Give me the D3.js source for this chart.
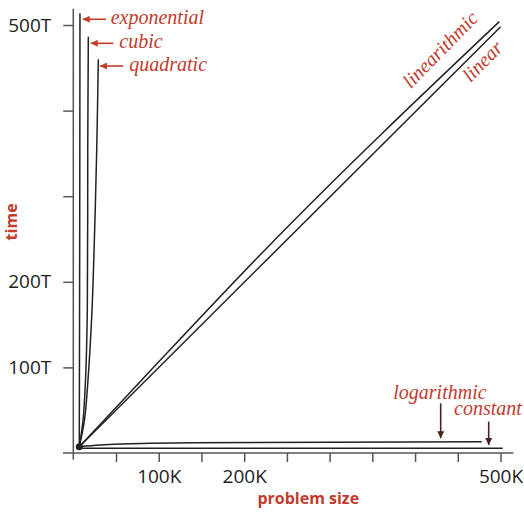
<!DOCTYPE html>
<html>
<head>
<meta charset="utf-8">
<title>Order of growth</title>
<script src="https://d3js.org/d3.v7.min.js"></script>
<style>
  body { margin: 0; background: #fff; }
  .axis .tick text { font-family: "Open Sans", sans-serif; font-size: 19px; fill: #222; }
  .axis .tick line { stroke: #555; stroke-width: 1.5; }
  .axisline { stroke: #555; stroke-width: 1.5; }
  .curve { fill: none; stroke: #222; stroke-width: 1.5; }
  .title { font-family: "Open Sans", sans-serif; font-weight: bold; font-size: 16px; fill: #c23b2e; }
  .lbl { font-family: "Liberation Serif", serif; font-style: italic; font-size: 20px; fill: #c23b2e; }
</style>
</head>
<body>
<svg id="growth" width="524" height="512"></svg>
<script>
// problem size N in thousands, time T in trillions
var xTicks = [50, 100, 150, 200, 250, 300, 350, 400, 450, 500];
var xTickLabels = { 100: "100K", 200: "200K", 500: "500K" };
var yTicks = [100, 200, 300, 400, 500];
var yTickLabels = { 100: "100T", 200: "200T", 500: "500T" };

var start = [7, 7.4];

var constantN = [7, 502.6];
var constantT = [5.5, 5.5];
var logN = [7, 31.3, 66.4, 140, 478];
var logT = [7.4, 9.3, 10.9, 12.0, 13.1];
var linearN = [7, 500.2];
var linearT = [7.4, 498];
var nlognN = [7, 80.1, 226, 498.6];
var nlognT = [7.4, 85.3, 239, 503.9];
var quadN = [7, 13.1, 17.2, 21.9, 25.0, 27.4, 29.3];
var quadT = [7.4, 38.6, 85.3, 167, 260.5, 354, 460];
var cubicN = [7, 11.4, 14.3, 16.4, 16.9, 17.6];
var cubicT = [7.4, 38.6, 85.3, 167, 354, 486.3];
var expN = [7, 7.5, 7.8];
var expT = [7.4, 250, 513.6];

// labels with left arrows: [name, arrow tip N, arrow tail N, arrow T, text N, text T]
var leftLabels = [
  ["exponential", 11, 38.3, 506.7, 43.8, 501.2],
  ["cubic", 20.4, 46.8, 478.6, 53.8, 473.1],
  ["quadratic", 31.2, 58.5, 452.1, 65.5, 446.6]
];
// labels with down arrows: [name, text N, text T, arrow N, arrow top T, arrow tip T]
var downLabels = [
  ["logarithmic", 374.5, 62.7, 430, 58, 17.2],
  ["constant", 445.6, 44.4, 486.2, 36.6, 9.3]
];
// slanted labels: [name, N, T, shift along, shift across]
var slantLabels = [
  ["linearithmic", 391.7, 421.7, 4, 0],
  ["linear", 457.3, 434.6, 3, 6]
];

var svg = d3.select("#growth");
var x = d3.scaleLinear().domain([0, 500]).range([73.3, 500.5]);
var y = d3.scaleLinear().domain([0, 500]).range([453, 25]);

var defs = svg.append("defs");
function marker(id, color) {
  defs.append("marker").attr("id", id)
    .attr("viewBox", "0 0 10 10").attr("refX", 10).attr("refY", 5)
    .attr("markerWidth", 8).attr("markerHeight", 7).attr("markerUnits", "userSpaceOnUse")
    .attr("orient", "auto")
    .append("path").attr("d", "M0,0L10,5L0,10z").attr("fill", color);
}
marker("arrRed", "#c23b2e");
marker("arrDark", "#4a2222");

// axes
svg.append("line").attr("class", "axisline")
  .attr("x1", x(0)).attr("x2", x(0)).attr("y1", y(-8)).attr("y2", y(519));
svg.append("line").attr("class", "axisline")
  .attr("x1", x(-12)).attr("x2", x(515)).attr("y1", y(0)).attr("y2", y(0));

svg.append("g").attr("class", "axis")
  .attr("transform", "translate(0," + y(0) + ")")
  .call(d3.axisBottom(x).tickValues(xTicks).tickSize(9).tickPadding(8)
    .tickFormat(function (d) { return xTickLabels[d] || ""; }))
  .call(function (g) { g.select(".domain").remove(); });

svg.append("g").attr("class", "axis")
  .attr("transform", "translate(" + x(0) + ",0)")
  .call(d3.axisLeft(y).tickValues(yTicks).tickSize(10).tickPadding(12)
    .tickFormat(function (d) { return yTickLabels[d] || ""; }))
  .call(function (g) { g.select(".domain").remove(); });

svg.append("text").attr("class", "title")
  .attr("text-anchor", "middle")
  .attr("transform", "translate(17," + y(270) + ") rotate(-90)")
  .text("time");
svg.append("text").attr("class", "title")
  .attr("text-anchor", "middle")
  .attr("x", x(275)).attr("y", 504)
  .text("problem size");

// curves
function pts(ns, ts) { return ns.map(function (n, i) { return [n, ts[i]]; }); }
var smooth = d3.line().x(function (d) { return x(d[0]); }).y(function (d) { return y(d[1]); })
  .curve(d3.curveCatmullRom.alpha(0.5));
var mono = d3.line().x(function (d) { return x(d[0]); }).y(function (d) { return y(d[1]); })
  .curve(d3.curveMonotoneX);

[[constantN, constantT, mono], [logN, logT, mono], [linearN, linearT, mono],
 [nlognN, nlognT, mono], [quadN, quadT, smooth], [cubicN, cubicT, smooth],
 [expN, expT, smooth]].forEach(function (c) {
  svg.append("path").attr("class", "curve").attr("d", c[2](pts(c[0], c[1])));
});

svg.append("circle").attr("cx", x(start[0])).attr("cy", y(start[1])).attr("r", 3.5).attr("fill", "#222");

// labels
leftLabels.forEach(function (l) {
  svg.append("line").attr("x1", x(l[2])).attr("x2", x(l[1])).attr("y1", y(l[3])).attr("y2", y(l[3]))
    .attr("stroke", "#c23b2e").attr("stroke-width", 1.6).attr("marker-end", "url(#arrRed)");
  svg.append("text").attr("class", "lbl").attr("x", x(l[4])).attr("y", y(l[5])).text(l[0]);
});
downLabels.forEach(function (l) {
  svg.append("text").attr("class", "lbl").attr("x", x(l[1])).attr("y", y(l[2])).text(l[0]);
  svg.append("line").attr("x1", x(l[3])).attr("x2", x(l[3])).attr("y1", y(l[4])).attr("y2", y(l[5]))
    .attr("stroke", "#4a2222").attr("stroke-width", 1.6).attr("marker-end", "url(#arrDark)");
});
var ang = Math.atan2(y(linearT[1]) - y(linearT[0]), x(linearN[1]) - x(linearN[0])) * 180 / Math.PI;
slantLabels.forEach(function (l) {
  svg.append("text").attr("class", "lbl")
    .attr("transform", "translate(" + x(l[1]) + "," + y(l[2]) + ") rotate(" + (ang - 0.6) + ")")
    .attr("x", l[3]).attr("y", l[4])
    .text(l[0]);
});
</script>
</body>
</html>
